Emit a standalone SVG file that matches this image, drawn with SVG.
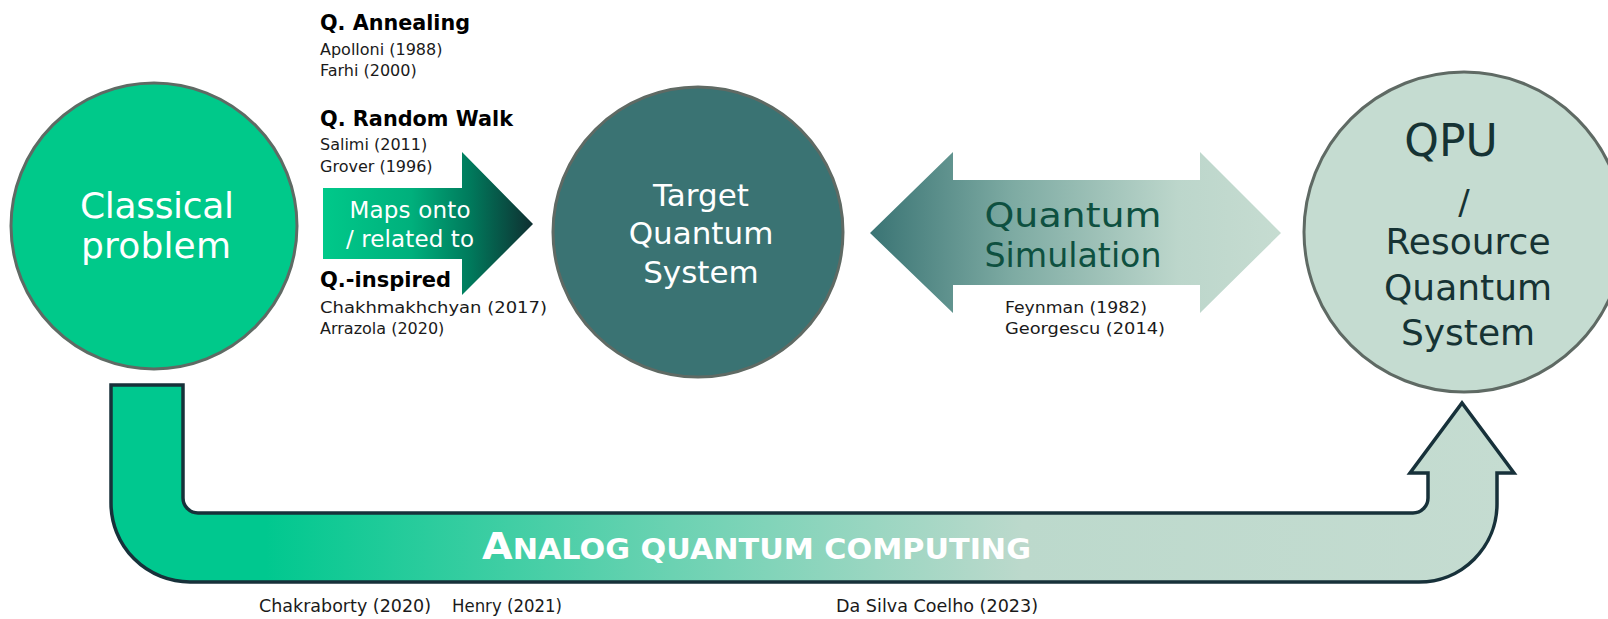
<svg xmlns="http://www.w3.org/2000/svg" width="1608" height="619" viewBox="0 0 1608 619">
<defs>
<linearGradient id="gMaps" gradientUnits="userSpaceOnUse" x1="323" y1="0" x2="533" y2="0">
<stop offset="0" stop-color="#00C98A"/>
<stop offset="0.42" stop-color="#00B07C"/>
<stop offset="0.7" stop-color="#007A5C"/>
<stop offset="1" stop-color="#0F2F31"/>
</linearGradient>
<linearGradient id="gSim" gradientUnits="userSpaceOnUse" x1="870" y1="0" x2="1280" y2="0">
<stop offset="0" stop-color="#3A7474"/>
<stop offset="0.35" stop-color="#7EABA3"/>
<stop offset="0.75" stop-color="#BCD6CB"/>
<stop offset="1" stop-color="#C6DCD1"/>
</linearGradient>
<linearGradient id="gU" gradientUnits="userSpaceOnUse" x1="111" y1="0" x2="1514" y2="0">
<stop offset="0" stop-color="#00C88F"/>
<stop offset="0.11" stop-color="#00C88F"/>
<stop offset="0.4" stop-color="#6BD2B2"/>
<stop offset="0.65" stop-color="#BCD9CC"/>
<stop offset="1" stop-color="#C5DCD1"/>
</linearGradient>
<style>
.sans{font-family:"DejaVu Sans","Liberation Sans",sans-serif}
.ref{font-family:"DejaVu Sans","Liberation Sans",sans-serif;font-size:16px;fill:#1a1a1a}
.head{font-family:"DejaVu Sans","Liberation Sans",sans-serif;font-size:21px;font-weight:bold;fill:#000}
.circ{stroke:#5F6A64;stroke-width:3}
.wt{fill:#ffffff}
</style>
</defs>
<rect width="1608" height="619" fill="#ffffff"/>

<g id="connectors">
<g id="maps-arrow">
<path d="M323,188 H462 V152 L533,224 L462,295 V259 H323 Z" fill="url(#gMaps)"/>
<text class="sans wt" font-size="23" text-anchor="middle" x="410" y="218" textLength="121">Maps onto</text>
<text class="sans wt" font-size="23" text-anchor="middle" x="410" y="247" textLength="128">/ related to</text>
</g>
<g id="sim-arrow">
<path d="M870,233 L953,152 V180 H1200 V152 L1281,233 L1200,313 V285 H953 V313 Z" fill="url(#gSim)"/>
<text class="sans" font-size="34" fill="#0E5040" text-anchor="middle" x="1073" y="227" textLength="177" lengthAdjust="spacingAndGlyphs">Quantum</text>
<text class="sans" font-size="34" fill="#0E5040" text-anchor="middle" x="1073" y="267" textLength="177" lengthAdjust="spacingAndGlyphs">Simulation</text>
</g>
<g id="analog-arrow">
<path d="M111,385 H183 V498 A15,15 0 0 0 198,513 H1413 A15,15 0 0 0 1428,498 V473 H1410 L1462,403 L1514,473 H1497 V504 A78,78 0 0 1 1419,582 H190 A79,79 0 0 1 111,503 Z" fill="url(#gU)" stroke="#17313A" stroke-width="3.5" stroke-linejoin="miter"/>
<text class="sans" fill="#ffffff" font-weight="bold" x="482" y="559" textLength="549" lengthAdjust="spacingAndGlyphs"><tspan font-size="38">A</tspan><tspan font-size="29">NALOG QUANTUM COMPUTING</tspan></text>
</g>
</g>

<g id="node-classical">
<circle class="circ" cx="154" cy="226" r="143" fill="#00C98A"/>
<text class="sans wt" font-size="36" text-anchor="middle" x="157" y="218" textLength="154">Classical</text>
<text class="sans wt" font-size="36" text-anchor="middle" x="156" y="258" textLength="150">problem</text>
</g>

<g id="node-target">
<circle class="circ" cx="698" cy="232" r="145" fill="#3A7373"/>
<text class="sans wt" font-size="31" text-anchor="middle" x="701" y="206">Target</text>
<text class="sans wt" font-size="31" text-anchor="middle" x="701" y="244">Quantum</text>
<text class="sans wt" font-size="31" text-anchor="middle" x="701" y="283">System</text>
</g>

<g id="node-qpu">
<circle class="circ" cx="1464" cy="232" r="160" fill="#C5DCD1"/>
<text class="sans" font-size="44" fill="#163334" text-anchor="middle" x="1451" y="156">QPU</text>
<text class="sans" font-size="34" fill="#163334" text-anchor="middle" x="1464" y="214">/</text>
<text class="sans" font-size="36" fill="#163334" text-anchor="middle" x="1468" y="254">Resource</text>
<text class="sans" font-size="36" fill="#163334" text-anchor="middle" x="1468" y="300">Quantum</text>
<text class="sans" font-size="36" fill="#163334" text-anchor="middle" x="1468" y="345">System</text>
</g>

<g id="labels-left">
<text class="head" x="320" y="30" textLength="150" lengthAdjust="spacingAndGlyphs">Q. Annealing</text>
<text class="ref" x="320" y="55">Apolloni (1988)</text>
<text class="ref" x="320" y="76">Farhi (2000)</text>
<text class="head" x="320" y="126" textLength="193" lengthAdjust="spacingAndGlyphs">Q. Random Walk</text>
<text class="ref" x="320" y="150">Salimi (2011)</text>
<text class="ref" x="320" y="172">Grover (1996)</text>
<text class="head" x="320" y="287">Q.-inspired</text>
<text class="ref" font-size="17" x="320" y="313" textLength="227" lengthAdjust="spacingAndGlyphs">Chakhmakhchyan (2017)</text>
<text class="ref" x="320" y="334">Arrazola (2020)</text>
</g>

<g id="labels-sim">
<text class="ref" x="1005" y="313" textLength="142" lengthAdjust="spacingAndGlyphs">Feynman (1982)</text>
<text class="ref" x="1005" y="334" textLength="160" lengthAdjust="spacingAndGlyphs">Georgescu (2014)</text>
</g>

<g id="labels-bottom">
<text class="ref" style="font-size:17px" x="259" y="612" textLength="172" lengthAdjust="spacingAndGlyphs">Chakraborty (2020)</text>
<text class="ref" style="font-size:17px" x="452" y="612" textLength="110" lengthAdjust="spacingAndGlyphs">Henry (2021)</text>
<text class="ref" style="font-size:17px" x="836" y="612" textLength="202" lengthAdjust="spacingAndGlyphs">Da Silva Coelho (2023)</text>
</g>
</svg>
